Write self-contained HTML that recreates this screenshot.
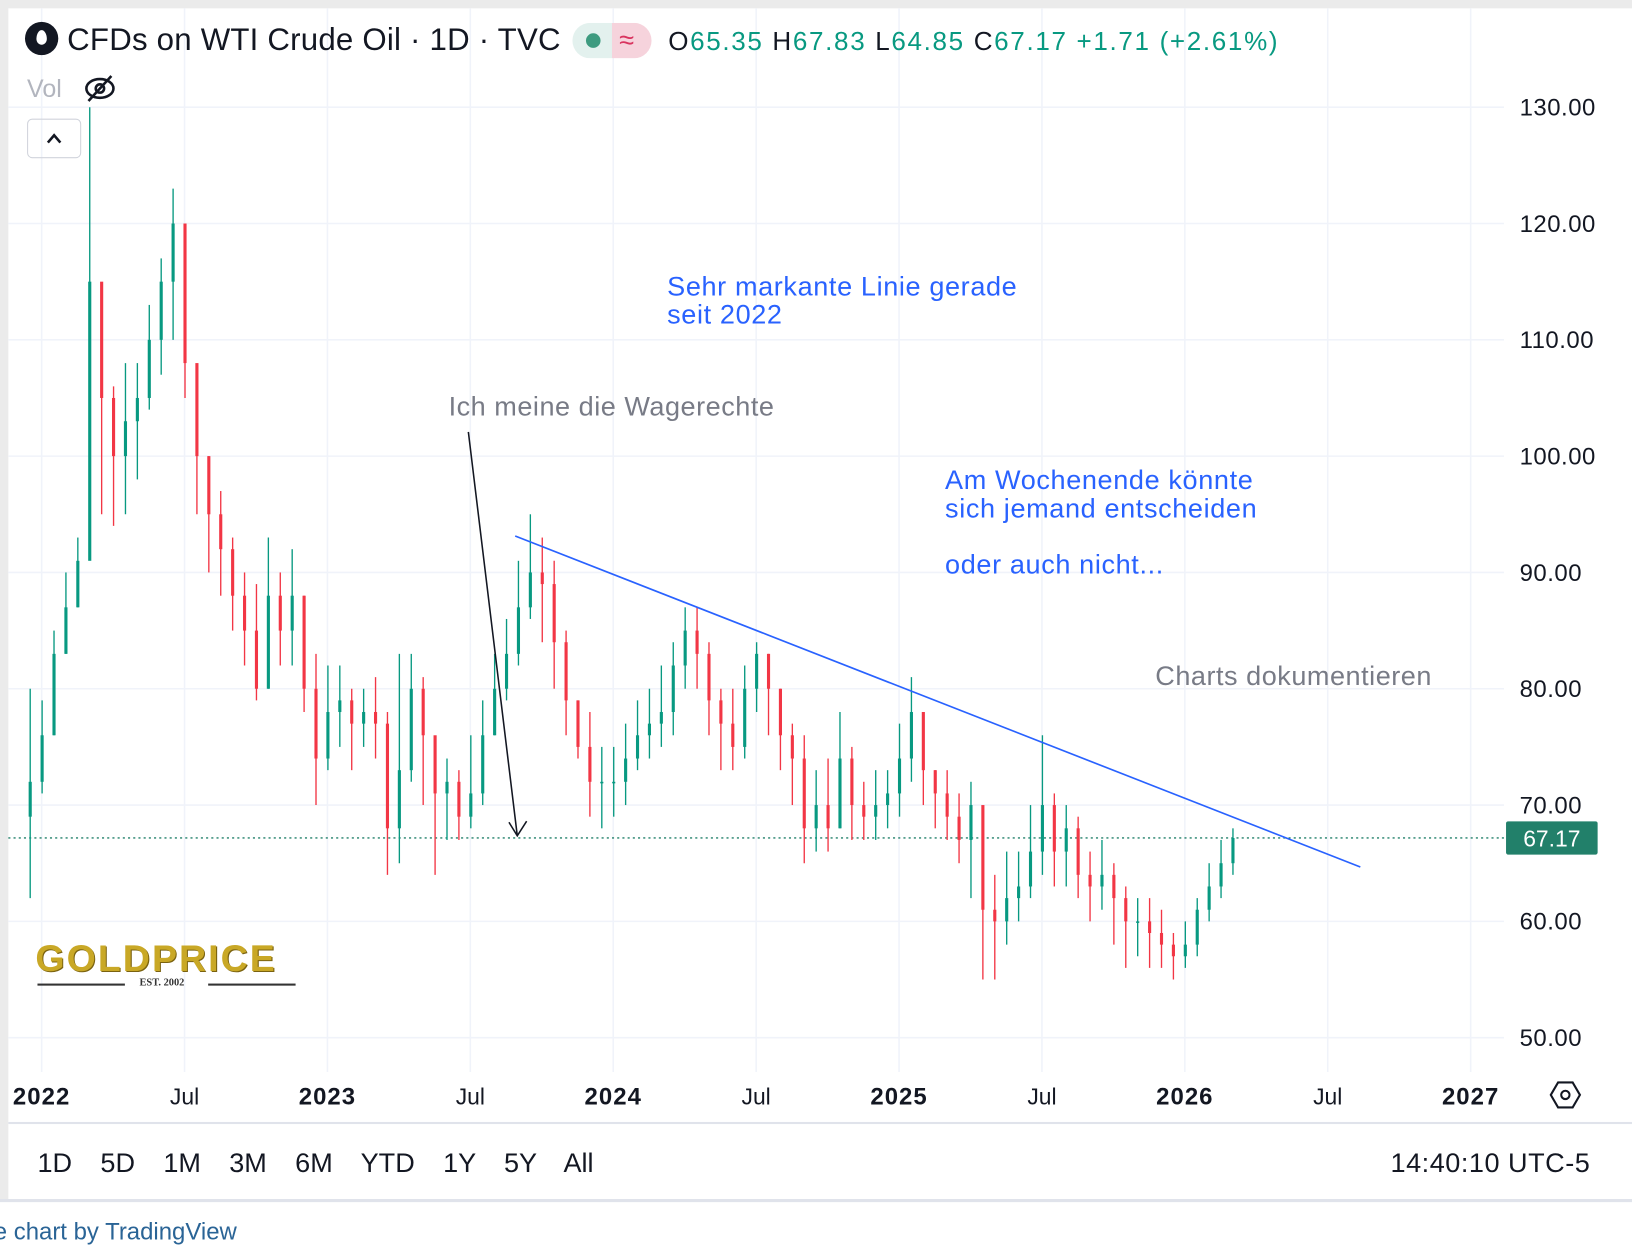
<!DOCTYPE html>
<html><head><meta charset="utf-8">
<style>
html,body{margin:0;padding:0;width:1632px;height:1254px;overflow:hidden;background:#fff;font-family:"Liberation Sans",sans-serif;}
#wrap{position:absolute;left:0;top:0;width:1568px;height:1205px;transform:scale(1.0408);transform-origin:0 0;background:#fff;}
.t{position:absolute;white-space:nowrap;}
</style></head>
<body>
<div id="wrap">
<div style="position:absolute;left:0;top:0;width:1568px;height:8px;background:#ebebeb"></div>
<div style="position:absolute;left:0;top:0;width:8px;height:1152px;background:#ebebeb"></div>
<svg id="chart" width="1568" height="1205" style="position:absolute;left:0;top:0"></svg>
<div class="t" style="left:24px;top:21px;font-size:30px;color:#131722;letter-spacing:0.2px"><span style="display:inline-block;width:32px;height:32px;border-radius:50%;background:#131722;vertical-align:-5px;position:relative"><span style="position:absolute;left:11px;top:8px;width:10px;height:14px;background:#fff;border-radius:50% 50% 50% 50%/60% 60% 40% 40%"></span></span> CFDs on WTI Crude Oil · 1D · TVC</div>
<div style="position:absolute;left:550px;top:22px;width:76px;height:34px;border-radius:17px;overflow:hidden"><div style="position:absolute;left:0;top:0;width:38px;height:34px;background:#e3f1ee"></div><div style="position:absolute;left:38px;top:0;width:38px;height:34px;background:#f6d3dc"></div><div style="position:absolute;left:13px;top:10px;width:14px;height:14px;border-radius:50%;background:#3e9b80"></div><div class="t" style="left:45px;top:1px;font-size:26px;color:#d9345f">≈</div></div>
<div class="t" style="left:642px;top:26px;font-size:25px;color:#131722;letter-spacing:1.6px">O<span style="color:#089981">65.35</span> H<span style="color:#089981">67.83</span> L<span style="color:#089981">64.85</span> C<span style="color:#089981">67.17</span> <span style="color:#089981">+1.71 (+2.61%)</span></div>
<div class="t" style="left:26px;top:72px;font-size:24px;color:#b2b5be">Vol</div>
<svg style="position:absolute;left:80px;top:70px" width="32" height="30"><ellipse cx="16" cy="15" rx="13" ry="9" fill="none" stroke="#131722" stroke-width="2.5"/><circle cx="16" cy="15" r="4" fill="none" stroke="#131722" stroke-width="2.5"/><line x1="5" y1="27" x2="27" y2="3" stroke="#131722" stroke-width="2.5"/></svg>
<div style="position:absolute;left:26px;top:114px;width:52px;height:38px;border:1.5px solid #d1d4dc;border-radius:5px;box-sizing:border-box"><svg width="49" height="35"><path d="M19,22 L25,15 L31,22" stroke="#131722" stroke-width="2.5" fill="none"/></svg></div>
<div class="t" style="left:641px;top:262px;font-size:26px;line-height:27px;color:#2962ff;letter-spacing:0.6px">Sehr markante Linie gerade<br>seit 2022</div>
<div class="t" style="left:431px;top:375px;font-size:26px;color:#787b86;letter-spacing:0.5px">Ich meine die Wagerechte</div>
<div class="t" style="left:908px;top:448px;font-size:26px;line-height:27px;color:#2962ff;letter-spacing:0.6px">Am Wochenende könnte<br>sich jemand entscheiden<br><br>oder auch nicht...</div>
<div class="t" style="left:1110px;top:634px;font-size:26px;color:#787b86;letter-spacing:0.5px">Charts dokumentieren</div>
<div style="position:absolute;left:34px;top:900px;width:256px;height:54px">
<div class="t" style="left:0;top:0;font-size:36px;font-weight:bold;color:#c9a826;letter-spacing:2px;text-shadow:1px 1px 0 #7a6210">GOLDPRICE</div>
<div style="position:absolute;left:2px;top:45px;width:84px;height:1.5px;background:#333"></div>
<div class="t" style="left:100px;top:39px;font-size:10px;font-family:'Liberation Serif',serif;font-weight:bold;color:#333">EST. 2002</div>
<div style="position:absolute;left:166px;top:45px;width:84px;height:1.5px;background:#333"></div></div>
<div style="position:absolute;left:8px;top:1078px;width:1560px;height:2px;background:#e0e3eb"></div>
<div class="t" style="left:36px;top:1102px;font-size:26px;color:#131722;word-spacing:20px">1D 5D 1M 3M 6M YTD 1Y 5Y All</div>
<div class="t" style="left:1336px;top:1102px;font-size:26px;color:#131722;letter-spacing:0.5px">14:40:10 UTC-5</div>
<div style="position:absolute;left:0;top:1152px;width:1568px;height:3px;background:#e0e3eb"></div>
<div class="t" style="left:-6px;top:1170px;font-size:23px;color:#2a6496">e chart by TradingView</div>
</div>
<script>
const yTicks=[130,120,110,100,90,80,70,60,50];
const xTickDates=[2022,2022.5,2023,2023.5,2024,2024.5,2025,2025.5,2026,2026.5,2027];
const xTickLabels=["2022","Jul","2023","Jul","2024","Jul","2025","Jul","2026","Jul","2027"];
const startDate=2021.96, stepYears=1/24;
const closes=[72,76,83,87,91,115,105,100,103,105,110,115,120,108,100,95,92,88,85,80,88,85,88,80,74,78,79,77,78,77,68,73,80,76,71,72,69,71,76,80,83,87,90,89,84,79,75,72,72,72,74,76,77,78,82,85,83,79,77,75,80,83,80,76,74,68,70,68,74,70,69,70,71,74,78,73,71,69,67,70,61,60,62,63,66,70,66,68,64,63,64,62,60,60,59,58,57,58,61,63,65,67.17];
const highs=[80,79,85,90,93,130,113,106,108,108,113,117,123,120,106,100,97,93,90,89,93,90,92,88,83,82,82,80,80,81,78,83,83,81,75,74,73,76,79,83,86,91,95,93,91,85,79,78,75,75,77,79,80,82,84,87,87,84,80,80,82,84,83,80,77,76,73,74,78,75,72,73,73,77,81,78,73,73,71,72,68,64,66,66,70,76,71,70,69,66,67,65,63,62,62,61,59,60,62,65,67,68];
const lows=[62,71,76,83,87,95,95,94,95,98,104,107,110,105,95,90,88,85,82,79,80,82,82,78,70,73,75,73,75,74,64,65,72,70,64,67,67,68,70,76,79,82,86,84,80,76,74,69,68,69,70,73,74,75,76,80,80,76,73,73,74,78,76,73,70,65,66,66,68,67,67,67,68,69,72,70,68,67,65,62,55,55,58,60,62,64,63,63,62,60,61,58,56,57,56,56,55,56,57,60,62,64];
const svg=document.getElementById('chart');
const NS='http://www.w3.org/2000/svg';
const x=d=>40+(d-2022)*274.6;
const y=v=>103+(130-v)*11.175;
function mk(t,a){const e=document.createElementNS(NS,t);for(const k in a)e.setAttribute(k,a[k]);svg.appendChild(e);return e;}
yTicks.forEach(v=>{const l=mk('line',{x1:8,x2:1445,y1:y(v),y2:y(v),stroke:'#f0f3fa','stroke-width':1.5});


const t=mk('text',{x:1460,y:y(v)+8,'font-size':23,fill:'#131722','font-family':'Liberation Sans','letter-spacing':0.5});t.textContent=v.toFixed(2);

});
xTickDates.forEach((d,i)=>{const l=mk('line',{x1:x(d),x2:x(d),y1:8,y2:1030,stroke:'#f0f3fa','stroke-width':1.5});


const bold=xTickLabels[i]!=='Jul';
const t=mk('text',{x:x(d),y:1061,'text-anchor':'middle','font-size':bold?23:22,'font-weight':bold?'bold':'normal',fill:'#131722','font-family':'Liberation Sans','letter-spacing':bold?1:0});t.textContent=xTickLabels[i];

});
const lastY=y(closes[closes.length-1]);
const pl=mk('line',{x1:8,x2:1445,y1:lastY,y2:lastY,stroke:'#22806a','stroke-width':1.3,'stroke-dasharray':'2 3'});


closes.forEach((c,i)=>{const o=i?closes[i-1]:c-3;const cx=x(startDate+i*stepYears);const col=c>=o?'#089981':'#f23645';
const w=mk('line',{x1:cx,x2:cx,y1:y(highs[i]),y2:y(lows[i]),stroke:col,'stroke-width':1.3});


const b=mk('rect',{x:cx-1.5,width:3,y:y(Math.max(o,c)),height:Math.max(1.5,Math.abs(y(o)-y(c))),fill:col});

});
const tl=mk('line',{x1:495,y1:515,x2:1307,y2:833,stroke:'#2962ff','stroke-width':1.6});


const ar=mk('path',{d:'M450,415 L497,803 M489,790 L497,803 L506,789',stroke:'#131722','stroke-width':1.5,fill:'none'});


const pb=mk('rect',{x:1447,y:lastY-16,width:88,height:32,rx:2,fill:'#22806a'});


const pt=mk('text',{x:1491,y:lastY+8,'text-anchor':'middle','font-size':22,fill:'#fff','font-family':'Liberation Sans'});pt.textContent=closes[closes.length-1].toFixed(2);


const gear=mk('path',{d:'M1497,1040 L1511,1040 L1518,1052 L1511,1064 L1497,1064 L1490,1052 Z',stroke:'#131722','stroke-width':2,fill:'none'});


const gc=mk('circle',{cx:1504,cy:1052,r:4,stroke:'#131722','stroke-width':2,fill:'none'});


</script>
</body></html>
